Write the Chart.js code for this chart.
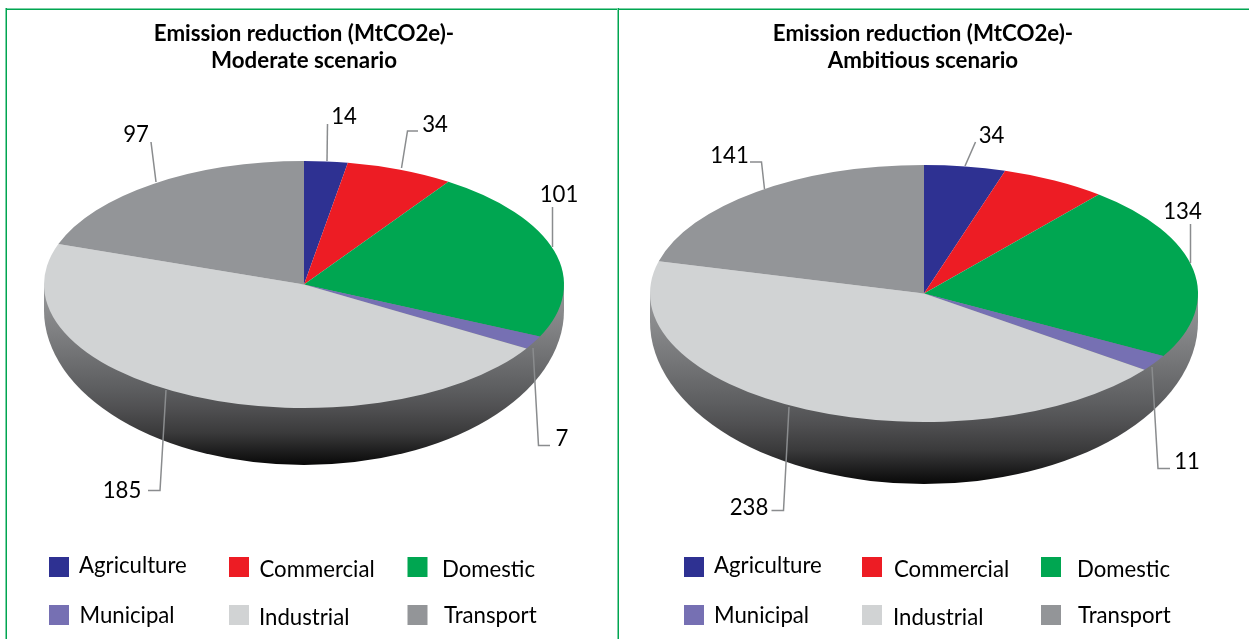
<!DOCTYPE html>
<html>
<head>
<meta charset="utf-8">
<title>Emission reduction by sector</title>
<script src="https://cdn.jsdelivr.net/npm/chart.js@4"></script>
<style>
  html, body { margin: 0; padding: 0; background: #fff; width: 1249px; height: 639px; overflow: hidden; }
  canvas { position: absolute; top: 0; }
  .rule { position: absolute; }
  .h { background: linear-gradient(180deg, #7ed0a6 50%, #00a651 50%); }
  .v { background: linear-gradient(90deg, #7ed0a6 50%, #00a651 50%); }
</style>
</head>
<body>
<div class="rule h" style="left:5px;top:8px;width:1244px;height:2px"></div>
<div class="rule v" style="left:5px;top:8px;width:2px;height:631px"></div>
<div class="rule v" style="left:617px;top:8px;width:2px;height:631px"></div>
<canvas id="moderate" width="608" height="639" style="left:0"></canvas>
<canvas id="ambitious" width="610" height="639" style="left:618px"></canvas>
<script>
// Sectors, clockwise from twelve o'clock
const categories = ['Agriculture', 'Commercial', 'Domestic', 'Municipal', 'Industrial', 'Transport'];
const sliceColors = ['#2e3192', '#ed1c24', '#00a651', '#7670b3', '#d1d3d4', '#939598'];

// MtCO2e reduction per sector
const moderateValues = [14, 34, 101, 7, 185, 97];
const ambitiousValues = [34, 43, 134, 11, 238, 141];

const moderateTitle = ['Emission reduction (MtCO2e)-', 'Moderate scenario'];
const ambitiousTitle = ['Emission reduction (MtCO2e)-', 'Ambitious scenario'];

const FONT = 'Lato, Carlito, "Open Sans", sans-serif';
const TILT_SKEW = 9 * Math.PI / 180; // slices nearer the viewer look wider

// Page-space layout of one tilted pie: ellipse, rim depth, callouts and key
const moderateLayout = {
  originX: 0, cx: 304, cy: 284.5, rx: 260, ry: 123.5, depth: 57,
  callouts: [
    { path: [[327, 161], [327.5, 124]], at: [344, 117] },
    { path: [[401.5, 168], [407.5, 131], [418, 131]], at: [435, 125] },
    { path: [[552.5, 247], [552.5, 207]], at: [559, 194.5] },
    { path: [[533, 348], [538.5, 445.5], [550, 445.5]], at: [562, 439] },
    { path: [[166, 390], [160, 490.5], [148, 490.5]], at: [122, 491] },
    { path: [[156, 182], [151, 142]], at: [136, 134.5] }
  ],
  swatchX: [49, 229, 407.5],
  textX: [[79, 259.5, 442], [79.5, 259, 444]]
};
const ambitiousLayout = {
  originX: 618, cx: 924, cy: 293.5, rx: 274, ry: 128.5, depth: 62,
  callouts: [
    { path: [[965, 166], [975.5, 142]], at: [991.5, 135.5] },
    null,
    { path: [[1190.5, 263], [1190.5, 224]], at: [1182.5, 211.5] },
    { path: [[1152, 367], [1158, 468.5], [1170, 468.5]], at: [1187, 462] },
    { path: [[789, 407], [783.5, 510.5], [771.5, 510.5]], at: [749, 508] },
    { path: [[764.5, 189], [761.5, 162], [750, 162]], at: [729.5, 156] }
  ],
  swatchX: [684, 862, 1041],
  textX: [[714, 894, 1077], [714, 893, 1078]]
};

const legendRowsY = [557, 605];
const legendTextY = [[566, 570, 570], [616, 618, 616]];

// Push arc angles around the circle so the slices read as a receding disc
const skewAngle = a => {
  const t = a + Math.PI / 2;
  return t - TILT_SKEW * Math.sin(t) - Math.PI / 2;
};

const tiltedPie = opts => ({
  id: 'tiltedPie',
  afterDatasetsUpdate(chart) {
    for (const arc of chart.getDatasetMeta(0).data) {
      const start = skewAngle(arc.startAngle);
      const end = skewAngle(arc.endAngle);
      arc.startAngle = start;
      arc.endAngle = end;
      arc.circumference = end - start;
    }
  },
  beforeDatasetsDraw(chart) {
    const { ctx } = chart;
    const first = chart.getDatasetMeta(0).data[0];
    const cx = opts.cx - opts.originX;
    const { cy, rx, ry, depth } = opts;

    // Rim below the top face: short straight sides, then a deep curve
    const rim = ctx.createLinearGradient(0, cy, 0, cy + ry + depth);
    rim.addColorStop(0, '#a0a1a3');
    rim.addColorStop(0.086, '#909193');
    rim.addColorStop(0.307, '#7a7b7d');
    rim.addColorStop(0.584, '#5c5d5f');
    rim.addColorStop(0.684, '#505052');
    rim.addColorStop(0.823, '#3a3a3b');
    rim.addColorStop(1, '#080808');
    const shoulder = cy + depth * 0.45;
    ctx.beginPath();
    ctx.moveTo(cx - rx, cy);
    ctx.lineTo(cx + rx, cy);
    ctx.ellipse(cx, shoulder, rx, cy + ry + depth - shoulder, 0, 0, Math.PI, false);
    ctx.closePath();
    ctx.fillStyle = rim;
    ctx.fill();

    // Flatten the library's round pie into the top face
    ctx.save();
    ctx.translate(cx, cy);
    ctx.scale(rx / first.outerRadius, ry / first.outerRadius);
    ctx.translate(-first.x, -first.y);
  },
  afterDatasetsDraw(chart) {
    const { ctx } = chart;
    ctx.restore();
    const values = chart.data.datasets[0].data;
    const shift = opts.originX;

    // Value callouts with their leader lines
    ctx.save();
    ctx.font = '22.2px ' + FONT;
    ctx.textBaseline = 'middle';
    opts.callouts.forEach((c, i) => {
      if (!c) return;
      ctx.beginPath();
      c.path.forEach(([x, y], k) => k ? ctx.lineTo(x - shift, y) : ctx.moveTo(x - shift, y));
      ctx.strokeStyle = '#8a8c8e';
      ctx.lineWidth = 1.5;
      ctx.stroke();
      ctx.fillStyle = '#000';
      ctx.textAlign = 'center';
      ctx.fillText(String(values[i]), c.at[0] - shift, c.at[1]);
    });

    // Two-row colour key under the pie
    ctx.textAlign = 'left';
    const order = [[0, 1, 2], [3, 4, 5]];
    order.forEach((row, r) => row.forEach((idx, c) => {
      ctx.fillStyle = sliceColors[idx];
      ctx.fillRect(opts.swatchX[c] - shift, legendRowsY[r], 20, 20);
      ctx.fillStyle = '#000';
      ctx.fillText(categories[idx], opts.textX[r][c] - shift, legendTextY[r][c]);
    }));
    ctx.restore();
  }
});

function drawPie(id, values, title, layout) {
  new Chart(document.getElementById(id), {
    type: 'pie',
    data: {
      labels: categories,
      datasets: [{ data: values, backgroundColor: sliceColors, borderWidth: 0, clip: false }]
    },
    plugins: [tiltedPie(layout)],
    options: {
      responsive: false,
      animation: false,
      layout: { padding: { bottom: 90 } },
      plugins: {
        legend: { display: false },
        tooltip: { enabled: false },
        title: {
          display: true,
          text: title,
          color: '#000',
          font: { family: FONT, size: 22.3, weight: 'bold', lineHeight: 1.21 },
          padding: { top: 20, bottom: 10 }
        }
      }
    }
  });
}

drawPie('moderate', moderateValues, moderateTitle, moderateLayout);
drawPie('ambitious', ambitiousValues, ambitiousTitle, ambitiousLayout);
</script>
</body>
</html>
